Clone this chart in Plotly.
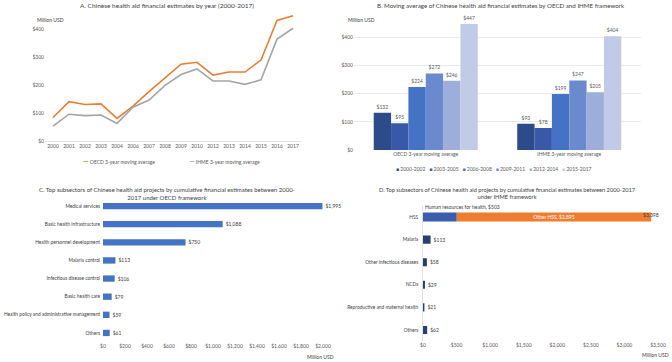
import plotly.graph_objects as go

W, H = 672, 362
FONT = "Lato"
TXT = "#595959"
DARK = "#404040"

# ---------------- data ----------------
years = ["2000", "2001", "2002", "2003", "2004", "2006", "2007", "2008", "2009",
         "2010", "2012", "2013", "2014", "2015", "2016", "2017"]
oecd_ma = [84, 141, 131, 133, 81, 125, 177, 227, 275, 282, 236, 247, 247, 290, 432, 449]
ihme_ma = [53, 96, 91, 93, 63, 121, 147, 199, 238, 258, 215, 215, 203, 219, 365, 404]
line_names = ["OECD 3-year moving average", "IHME 3-year moving average"]
line_colors = ["#ED7D31", "#A5A5A5"]

frameworks = ["OECD 3-year moving average", "IHME 3-year moving average"]
periods = ["2000-2002", "2003-2005", "2006-2008", "2009-2011", "2012-2014", "2015-2017"]
period_oecd = [132, 95, 224, 272, 246, 447]
period_ihme = [93, 78, 199, 247, 205, 404]
period_colors = ["#2E4B89", "#3759A8", "#4472C4", "#6B8ACE", "#9EAEDB", "#C1CBE8"]

oecd_subsectors = ["Medical services", "Basic health infrastructure", "Health personnel development",
                   "Malaria control", "Infectious disease control", "Basic health care",
                   "Health policy and administrative management", "Others"]
oecd_values = [1995, 1088, 750, 113, 106, 79, 59, 61]

ihme_subsectors = ["HSS", "Malaria", "Other infectious diseases", "NCDs",
                   "Reproductive and maternal health", "Others"]
hss_hrh = 503
hss_other = 2895
hss_total = 3398
ihme_values = [113, 58, 29, 21, 62]  # for categories after HSS


def X(px):
    return px / W


def Y(py):
    return 1 - py / H


fig = go.Figure()

# ---------------- Panel A ----------------
for vals, nm, col in zip([oecd_ma, ihme_ma], line_names, line_colors):
    fig.add_trace(go.Scatter(x=years, y=vals, mode="lines", name=nm,
                             line=dict(color=col, width=1.6), xaxis="x", yaxis="y",
                             showlegend=False))

# ---------------- Panel B ----------------
for i, p in enumerate(periods):
    fig.add_trace(go.Bar(x=frameworks, y=[period_oecd[i], period_ihme[i]], name=p,
                         marker=dict(color=period_colors[i], line=dict(width=0)),
                         text=[f"${period_oecd[i]}", f"${period_ihme[i]}"],
                         textposition="outside", cliponaxis=False,
                         textfont=dict(size=5, color=TXT, family=FONT),
                         xaxis="x2", yaxis="y2", showlegend=False))

# ---------------- Panel C ----------------
fig.add_trace(go.Bar(x=oecd_values, y=oecd_subsectors, orientation="h",
                     marker=dict(color="#4472C4", line=dict(width=0)),
                     width=0.35, offset=-0.175,
                     text=[f"${v:,}" for v in oecd_values], textposition="outside",
                     cliponaxis=False, textfont=dict(size=5, color=DARK, family=FONT),
                     xaxis="x3", yaxis="y3", showlegend=False))

# ---------------- Panel D ----------------
fig.add_trace(go.Bar(x=[hss_hrh], y=[ihme_subsectors[0]], orientation="h",
                     marker=dict(color="#3A5EAB", line=dict(width=0)),
                     width=0.4, offset=-0.2, xaxis="x4", yaxis="y4", showlegend=False))
fig.add_trace(go.Bar(x=[hss_other], y=[ihme_subsectors[0]], base=[hss_hrh], orientation="h",
                     marker=dict(color="#ED7D31", line=dict(width=0)),
                     width=0.4, offset=-0.2,
                     text=[f"Other HSS, ${hss_other:,}"], textposition="inside",
                     insidetextanchor="middle", constraintext="none", textangle=0,
                     textfont=dict(size=5, color="white", family=FONT),
                     xaxis="x4", yaxis="y4", showlegend=False))
fig.add_trace(go.Bar(x=ihme_values, y=ihme_subsectors[1:], orientation="h",
                     marker=dict(color="#25406F", line=dict(width=0)),
                     width=0.36, offset=-0.18,
                     text=[f"${v}" for v in ihme_values], textposition="outside",
                     cliponaxis=False, textfont=dict(size=5, color=DARK, family=FONT),
                     xaxis="x4", yaxis="y4", showlegend=False))

tick = dict(size=5, color=TXT, family=FONT)
cat = dict(size=4.8, color=DARK, family=FONT)

fig.update_layout(
    width=W, height=H, margin=dict(l=0, r=0, t=0, b=0),
    paper_bgcolor="white", plot_bgcolor="white",
    font=dict(family=FONT, color=DARK),
    barmode="group", bargap=0.275, bargroupgap=0,
    showlegend=False,
    # Panel A axes
    xaxis=dict(domain=[X(45), X(301)], range=[-0.5, 15.5], type="category",
               tickfont=tick, showgrid=False, showline=True, linecolor="#D9D9D9",
               linewidth=0.8, ticks="", anchor="y", automargin=False),
    yaxis=dict(domain=[Y(141), Y(12.6)], range=[0, 460], tickvals=[0, 100, 200, 300, 400],
               ticktext=["$0", "$100", "$200", "$300", "$400"], tickfont=tick,
               showgrid=False, zeroline=False, showline=False, anchor="x", ticks="",
               automargin=False),
    # Panel B axes
    xaxis2=dict(domain=[X(354), X(641)], tickfont=tick, showgrid=False, showline=False,
                anchor="y2", ticks="", automargin=False),
    yaxis2=dict(domain=[Y(150), Y(17.6)], range=[0, 470], tickvals=[0, 100, 200, 300, 400],
                ticktext=["$0", "$100", "$200", "$300", "$400"], tickfont=tick,
                showgrid=True, gridcolor="#E3E3E3", gridwidth=0.7, zeroline=False,
                anchor="x2", ticks="", automargin=False),
    # Panel C axes
    xaxis3=dict(domain=[X(103), X(323)], range=[0, 2000], dtick=200, tickprefix="$",
                tickformat=",", tickfont=tick, showgrid=False, zeroline=False,
                showline=False, anchor="y3", ticks="", automargin=False),
    yaxis3=dict(domain=[Y(342), Y(197)], categoryorder="array",
                categoryarray=oecd_subsectors, autorange="reversed", tickfont=cat,
                showgrid=False, showline=False, anchor="x3", ticks="", ticklabelstandoff=2,
                automargin=False),
    # Panel D axes
    xaxis4=dict(domain=[X(423), X(658)], range=[0, 3500], dtick=500, tickprefix="$",
                tickformat=",", tickfont=tick, showgrid=False, zeroline=False,
                showline=False, anchor="y4", ticks="", automargin=False),
    yaxis4=dict(domain=[Y(341.3), Y(205.7)], categoryorder="array",
                categoryarray=ihme_subsectors, autorange="reversed", tickfont=cat,
                showgrid=False, showline=True, linecolor="#D9D9D9", linewidth=0.8,
                anchor="x4", ticks="", ticklabelstandoff=3, automargin=False),
)

# legend for panel B (text-based)
legend_b = "&nbsp;&nbsp;&nbsp;".join(
    f"<span style='color:{c}'>■</span> {p}" for p, c in zip(periods, period_colors))

ann = [
    dict(text="A. Chinese health aid financial estimates by year (2000-2017)",
         x=X(167), y=Y(6), font=dict(size=6.5, color=DARK)),
    dict(text="B. Moving average of Chinese health aid financial estimates by OECD and IHME framework",
         x=X(501), y=Y(5), font=dict(size=6.2, color=DARK)),
    dict(text="C. Top subsectors of Chinese health aid projects by cumulative financial estimates between 2000-<br>2017 under OECD framework",
         x=X(167), y=Y(193), font=dict(size=6, color=DARK)),
    dict(text="D. Top subsectors of Chinese health aid projects by cumulative financial estimates between 2000-2017<br>under IHME framework",
         x=X(507), y=Y(193), font=dict(size=5.7, color=DARK)),
    dict(text="Million USD", x=X(35), y=Y(20), xanchor="left", font=dict(size=5, color=DARK)),
    dict(text="Million USD", x=X(346), y=Y(20), xanchor="left", font=dict(size=5, color=DARK)),
    dict(text="Million USD", x=X(336), y=Y(357), xanchor="right", font=dict(size=5, color=DARK)),
    dict(text="Million USD", x=X(671), y=Y(355), xanchor="right", font=dict(size=5, color=DARK)),
    dict(text=legend_b, x=X(494), y=Y(169), font=dict(size=5, color=TXT)),
]
# legend for panel A (text-based)
for nm, col, lx in zip(line_names, line_colors, [81, 187]):
    ann.append(dict(text=f"<span style='color:{col}; font-size:7px'><b>—</b></span> {nm}",
                    x=X(lx), y=Y(161), xanchor="left", font=dict(size=5, color=TXT)))

for a in ann:
    a.setdefault("xanchor", "center")
    fig.add_annotation(xref="paper", yref="paper", yanchor="middle", showarrow=False,
                       font_family=FONT, **a)

# data-anchored labels on the HSS bar
fig.add_annotation(x=0, y=ihme_subsectors[0], xref="x4", yref="y4",
                   text=f"Human resources for health, ${hss_hrh}", xanchor="left",
                   yanchor="middle", yshift=10, showarrow=False,
                   font=dict(size=5, color=DARK, family=FONT))
fig.add_annotation(x=hss_total, y=ihme_subsectors[0], xref="x4", yref="y4",
                   text=f"${hss_total:,}", xanchor="center", yanchor="middle", yshift=2,
                   showarrow=False, font=dict(size=5, color=DARK, family=FONT))

fig.write_html("out.html",
               config={"displayModeBar": False, "staticPlot": True},
               post_script="document.body.style.margin='0';document.body.style.overflow='hidden';")
